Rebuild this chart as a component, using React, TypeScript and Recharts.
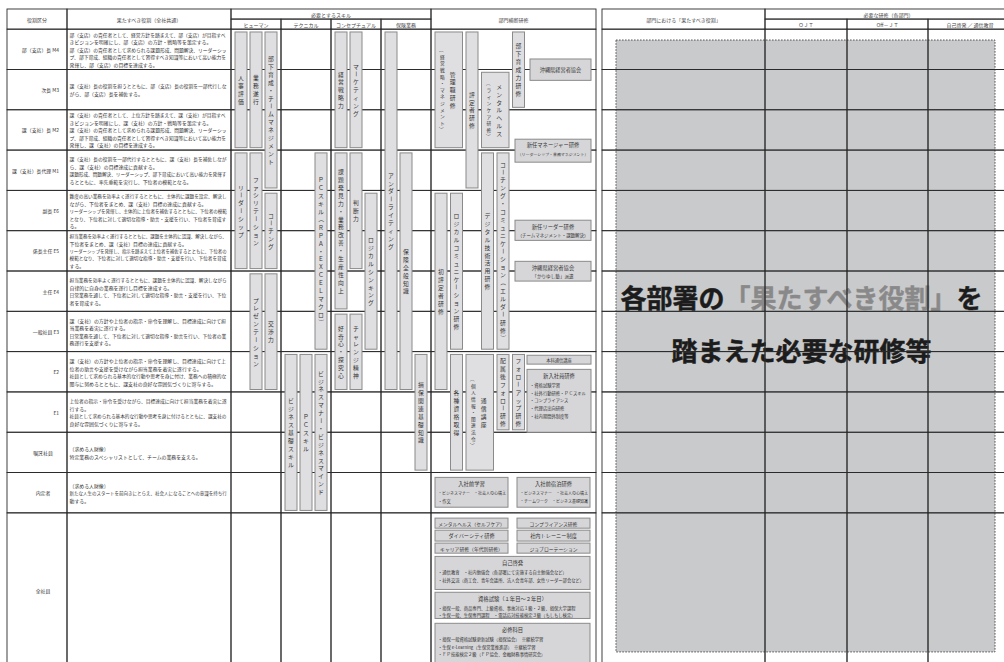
import React from "react";
import { ComposedChart, XAxis, YAxis, ReferenceArea } from "recharts";

const FONT = '"Noto Sans CJK JP", "Noto Sans", sans-serif';

// rows of the table (grades)
const grades = [
  "部（支店）長 M4",
  "次長 M3",
  "課（支社）長 M2",
  "課（支社）長代理 M1",
  "副長 E6",
  "係長主任 E5",
  "主任 E4",
  "一般社員 E3",
  "E2",
  "E1",
  "嘱託社員",
  "内定者",
  "全社員",
];
const centeredGrades = ["嘱託社員", "内定者", "全社員"];

// 果たすべき役割（全社共通）
const roles: string[][] = [
  [
    "部（支店）の責任者として、経営方針を踏まえて、部（支店）が目指すべ",
    "きビジョンを明確にし、部（支店）の方針・戦略等を策定する。",
    "部（支店）の責任者として求められる課題形成、問題解決、リーダーシッ",
    "プ、部下育成、組織の責任者として習得すべき知識等において高い能力を",
    "発揮し、部（支店）の目標を達成する。",
  ],
  [
    "課（支社）長の役割を担うとともに、部（支店）長の役割を一部代行しな",
    "がら、部（支店）長を補佐する。",
  ],
  [
    "課（支社）の責任者として、上位方針を踏まえて、課（支社）が目指すべ",
    "きビジョンを明確にし、課（支社）の方針・戦略等を策定する。",
    "課（支社）の責任者として求められる課題形成、問題解決、リーダーシッ",
    "プ、部下育成、組織の責任者として習得すべき知識等において高い能力を",
    "発揮し、課（支社）の目標を達成する。",
  ],
  [
    "課（支社）長の役割を一部代行するとともに、課（支社）長を補佐しなが",
    "ら、課（支社）の目標達成に貢献する。",
    "課題形成、問題解決、リーダーシップ、部下育成において高い能力を発揮す",
    "るとともに、率先垂範を実行し、下位者の模範となる。",
  ],
  [
    "難度の高い業務を効率よく遂行するとともに、主体的に課題を設定、解決し",
    "ながら、下位者をまとめ、課（支社）目標の達成に貢献する。",
    "リーダーシップを発揮し、主体的に上位者を補佐するとともに、下位者の模範",
    "となり、下位者に対して適切な指導・助言・支援を行い、下位者を育成す",
    "る。",
  ],
  [
    "担当業務を効率よく遂行するとともに、課題を主体的に認識、解決しながら、",
    "下位者をまとめ、課（支社）目標の達成に貢献する。",
    "リーダーシップを発揮し、指示を踏まえて上位者を補佐するとともに、下位者の",
    "模範となり、下位者に対して適切な指導・助言・支援を行い、下位者を育成",
    "する。",
  ],
  [
    "担当業務を効率よく遂行するとともに、課題を主体的に認識、解決しながら",
    "自律的に自身の業務を遂行し目標を達成する。",
    "日常業務を通して、下位者に対して適切な指導・助言・支援を行い、下位",
    "者を育成する。",
  ],
  [
    "課（支社）の方針や上位者の指示・命令を理解し、目標達成に向けて担",
    "当業務を着実に遂行する。",
    "日常業務を通して、下位者に対して適切な指導・助言を行い、下位者の業",
    "務遂行を支援する。",
  ],
  [
    "課（支社）の方針や上位者の指示・命令を理解し、目標達成に向けて上",
    "位者の助言や支援を受けながら担当業務を着実に遂行する。",
    "社員として求められる基本的な行動や思考を身に付け、業務への積極的な",
    "関与に努めるとともに、課支社の良好な雰囲気づくりに寄与する。",
  ],
  [
    "上位者の指示・命令を受けながら、目標達成に向けて担当業務を着実に遂",
    "行する。",
    "社員として求められる基本的な行動や思考を身に付けるとともに、課支社の",
    "良好な雰囲気づくりに寄与する。",
  ],
  ["〔求める人財像〕", "特定業務のスペシャリストとして、チームの業務を支える。"],
  [
    "〔求める人財像〕",
    "新たな人生のスタートを前向きにとらえ、社会人になることへの意識を持ち行",
    "動する。",
  ],
  [],
];

const skillGroups = ["ヒューマン", "テクニカル", "コンセプチュアル", "保険業務"];

// [label, skill group, lane, first grade, last grade]
const skillBars: [string, number, number, number, number][] = [
  ["人事評価", 0, 0, 0, 2],
  ["業務遂行", 0, 1, 0, 2],
  ["部下育成・チームマネジメント", 0, 2, 0, 3],
  ["リーダーシップ", 0, 0, 3, 5],
  ["ファシリテーション", 0, 1, 3, 5],
  ["コーチング", 0, 2, 4, 5],
  ["プレゼンテーション", 0, 1, 6, 8],
  ["交渉力", 0, 2, 6, 8],
  ["ＰＣスキル（ＲＰＡ・ＥＸＣＥＬマクロ）", 1, 2, 3, 7],
  ["ビジネス基礎スキル", 1, 0, 8, 11],
  ["ＰＣスキル", 1, 1, 8, 11],
  ["ビジネスマナー・ビジネスマインド", 1, 2, 8, 11],
  ["経営戦略力", 2, 0, 0, 2],
  ["マーケティング", 2, 1, 0, 2],
  ["課題発見力・業務改善・生産性向上", 2, 0, 3, 6],
  ["判断力", 2, 1, 3, 5],
  ["ロジカルシンキング", 2, 2, 4, 7],
  ["好奇心・探究心", 2, 0, 7, 8],
  ["チャレンジ精神", 2, 1, 7, 8],
  ["アンダーライティング", 3, 0, 0, 8],
  ["保険全般知識", 3, 1, 3, 8],
  ["損保関連基礎知識", 3, 2, 8, 10],
];

// 部門横断研修 bars: [label ("|" = next column), lane, lanes wide, first grade, last grade]
const crossBars: [string, number, number, number, number][] = [
  ["管理職研修|（経営戦略・マネジメント）", 0, 2, 0, 2],
  ["評定者研修", 2, 1, 0, 3],
  ["メンタルヘルス|（ラインケア研修）", 3, 2, 1, 2],
  ["部下育成力研修", 5, 1, 0, 1],
  ["デジタル技術活用研修", 3, 1, 3, 7],
  ["コーチング・コミュニケーション（エルダー研修）", 4, 1, 3, 7],
  ["初評定者研修", 0, 1, 4, 8],
  ["ロジカルコミュニケーション研修", 1, 1, 4, 7],
  ["各種資格取得", 1, 1, 8, 10],
  ["通信講座|（個人情報・関連法令）", 2, 2, 8, 10],
  ["配属後フォロー研修", 4, 1, 8, 9],
  ["フォローアップ研修", 5, 1, 8, 9],
];

// 部門横断研修 boxes: [title, lines, slot, from (grade units), to]
const crossBoxes: [string, string[], string, number, number][] = [
  ["沖縄県経営者協会", [], "side", 0.74, 1.27],
  ["新任マネージャー研修", ["（リーダーシップ・業務マネジメント）"], "wide", 2.73, 3.3],
  ["新任リーダー研修", ["（チームマネジメント・課題解決）"], "wide", 4.74, 5.24],
  ["沖縄県経営者協会", ["「かりゆし塾」派遣"], "wide", 5.76, 6.25],
  ["本科通信講座", [], "narrow", 8.09, 8.31],
  [
    "新入社員研修",
    ["・資格試験学習", "・社外行動研修・ＰＣスキル", "・コンプライアンス", "・代理店出向研修", "・社内期間外制度等"],
    "narrow",
    8.44,
    10.0,
  ],
  ["入社前学習", ["・ビジネスマナー　・社会人の心構え", "・作文"], "left", 11.12, 11.86],
  ["入社前宿泊研修", ["・ビジネスマナー　・社会人の心構え", "・チームワーク　・ビジネス基礎知識"], "right", 11.12, 11.86],
  ["メンタルヘルス（セルフケア）", [], "left", 12.13, 12.38],
  ["コンプライアンス研修", [], "right", 12.13, 12.38],
  ["ダイバーシティ研修", [], "left", 12.43, 12.7],
  ["社内トレーニー制度", [], "right", 12.43, 12.7],
  ["キャリア研修（年代別研修）", [], "left", 12.75, 13.0],
  ["ジョブローテーション", [], "right", 12.75, 13.0],
  [
    "自己啓発",
    ["・通信教育　・社内勉強会（各部署にて実施する自主勉強会など）", "・社外交流（商工会、青年会議所、法人会青年部、女性リーダー部会など）"],
    "full",
    13.08,
    13.9,
  ],
  [
    "資格試験（１年目～２年目）",
    ["・損保一般、商品専門、上級資格、事故対応１級・２級、損保大学課程", "・生保一般、生保専門課程　・電話応対技能検定３級（もしもし検定）"],
    "full",
    13.97,
    14.62,
  ],
  [
    "必修科目",
    [
      "・損保一般資格試験更新試験（損保協会）　※継続学習",
      "・生保 e-Learning（生保営業推進部）　※継続学習",
      "・ＦＰ技能検定２級（ＦＰ協会、金融財務事情研究会）",
    ],
    "full",
    14.74,
    15.9,
  ],
];

const rightCols = ["ＯＪＴ", "Off－ＪＴ", "自己啓発 ／ 通信教育"];

// layout
const W = 1004;
const H = 662;
const TABLE_TOP = 9;
const Y_MIN = -0.5;
const Y_MAX = 15.7;
const LAST_BOTTOM = 16.8;
const LEFT_EDGES = [7, 67, 231, 281, 331, 381, 431, 596];
const RIGHT_EDGES = [602, 765, 847, 928, 1012];
const SKILL_X0 = 231;
const SKILL_W = 50;
const CROSS_X0 = 431;
const BAR_W = 12;
const LANE_STEP = 15;
const CROSS_STEP = 15.5;
const SLOTS: Record<string, [number, number]> = {
  side: [530, 591],
  wide: [515, 591],
  narrow: [527, 591],
  left: [435, 508],
  right: [517, 590],
  full: [435, 590],
};
const LINE = "#2a2a2a";
const BAR_FILL = "#dfdfe1";
const BOX_FILL = "#d6d6d8";
const BAR_STROKE = "#8a8a8a";
const TXT = "#333";
const ROTATE = "ー（）〔〕「」－～〜";

type P = { x: number; y: number; width: number; height: number };

const rowBottom = (i: number) => (i === grades.length - 1 ? LAST_BOTTOM : i + 1);

function area(key: string, x1: number, x2: number, y1: number, y2: number, draw: (p: P) => React.ReactElement) {
  return <ReferenceArea key={key} x1={x1} x2={x2} y1={y1} y2={y2} ifOverflow="visible" shape={(p: any) => draw(p)} />;
}

function estWidth(s: string, size: number) {
  let w = 0;
  for (const ch of Array.from(s)) w += ch.charCodeAt(0) > 0xff ? size : size * 0.55;
  return w;
}

// horizontal text; shrinks the font when the line would not fit
function HText({ x, y, s, size, anchor = "middle", fit, color = TXT }: any) {
  const fs = fit ? Math.min(size, (size * fit) / estWidth(s, size)) : size;
  return (
    <text x={x} y={y} fontSize={fs} fill={color} fontFamily={FONT} textAnchor={anchor} dominantBaseline="central">
      {s}
    </text>
  );
}

function VText({ cx, top, bottom, s, size = 5.8, step = 7.9 }: { cx: number; top: number; bottom: number; s: string; size?: number; step?: number }) {
  const chars = Array.from(s);
  const gap = Math.min(step, (bottom - top - 4) / chars.length);
  const y0 = (top + bottom) / 2 - ((chars.length - 1) * gap) / 2;
  return (
    <g>
      {chars.map((ch, i) => {
        const y = y0 + i * gap;
        return (
          <text
            key={i}
            x={cx}
            y={y}
            fontSize={size}
            fill={TXT}
            fontFamily={FONT}
            textAnchor="middle"
            dominantBaseline="central"
            transform={ROTATE.includes(ch) ? `rotate(90 ${cx} ${y})` : undefined}
          >
            {ch}
          </text>
        );
      })}
    </g>
  );
}

const cellRect = (p: P) => (
  <rect x={p.x} y={p.y} width={p.width} height={p.height} fill="none" stroke={LINE} strokeWidth={0.9} />
);

const headCell = (label: string) => (p: P) => (
  <g>
    {cellRect(p)}
    <HText x={p.x + p.width / 2} y={p.y + p.height / 2} s={label} size={5} color="#444" />
  </g>
);

const barShape = (label: string) => (p: P) => {
  const cols = label.split("|");
  const cx = p.x + p.width / 2;
  return (
    <g>
      <rect x={p.x} y={p.y} width={p.width} height={p.height} fill={BAR_FILL} stroke={BAR_STROKE} strokeWidth={1} />
      {cols.map((c, i) =>
        cols.length === 1 ? (
          <VText key={i} cx={cx} top={p.y} bottom={p.y + p.height} s={c} />
        ) : i === 0 ? (
          <VText key={i} cx={cx + 4} top={p.y} bottom={p.y + p.height} s={c} />
        ) : (
          <VText key={i} cx={cx - 6.5} top={p.y} bottom={p.y + p.height} s={c} size={4.7} step={6.6} />
        )
      )}
    </g>
  );
};

const boxShape = (title: string, lines: string[]) => (p: P) => {
  const cx = p.x + p.width / 2;
  const bullets = lines.length > 0 && lines[0].startsWith("・");
  return (
    <g>
      <rect x={p.x} y={p.y} width={p.width} height={p.height} fill={BOX_FILL} stroke={BAR_STROKE} strokeWidth={1} />
      {lines.length === 0 ? (
        <HText x={cx} y={p.y + p.height / 2} s={title} size={Math.min(5.2, p.height * 0.48)} fit={p.width - 6} />
      ) : (
        <g>
          <HText x={cx} y={p.y + 6.3} s={title} size={5.3} />
          {lines.map((l, i) => (
            <HText
              key={i}
              x={bullets ? p.x + 3 : cx}
              y={p.y + (bullets ? 15.3 : 14.8) + i * 7.9}
              s={l}
              size={bullets ? 4.3 : 4.6}
              anchor={bullets ? "start" : "middle"}
              fit={p.width - 5}
            />
          ))}
        </g>
      )}
    </g>
  );
};

export default function App() {
  const layers: React.ReactElement[] = [];

  // right table: gray placeholder area
  layers.push(
    area("gray", 616, 995, 0.27, 15.45, (p) => (
      <rect x={p.x} y={p.y} width={p.width} height={p.height} fill="#c9cacc" stroke="#555" strokeWidth={1} strokeDasharray="1.6 1.4" />
    ))
  );

  // headline (the grid lines of the right table run over it)
  layers.push(
    area("headline", 616, 995, 0.27, 15.45, (p) => {
      const cx = p.x + p.width / 2 - 4;
      return (
        <g fontFamily={FONT} fontWeight={700} fontSize={26} textAnchor="middle" dominantBaseline="central" strokeWidth={0.45} strokeLinejoin="round">
          <text x={cx} y={p.y + p.height * 0.418}>
            <tspan fill="#1c1c1c" stroke="#1c1c1c">各部署の</tspan>
            <tspan fill="#898989" stroke="#898989">「果たすべき役割」</tspan>
            <tspan fill="#1c1c1c" stroke="#1c1c1c">を</tspan>
          </text>
          <text x={cx} y={p.y + p.height * 0.505} fill="#1c1c1c" stroke="#1c1c1c">
            踏まえた必要な研修等
          </text>
        </g>
      );
    })
  );

  // right table header + grid
  layers.push(area("rh0", RIGHT_EDGES[0], RIGHT_EDGES[1], -0.5, 0, headCell("部門における「果たすべき役割」")));
  layers.push(area("rh1", RIGHT_EDGES[1], RIGHT_EDGES[4], -0.5, -0.25, headCell("必要な研修（各部門）")));
  rightCols.forEach((c, j) => layers.push(area(`rhc${j}`, RIGHT_EDGES[j + 1], RIGHT_EDGES[j + 2], -0.25, 0, headCell(c))));
  grades.forEach((_, i) => {
    for (let j = 0; j < 4; j++) layers.push(area(`r${i}-${j}`, RIGHT_EDGES[j], RIGHT_EDGES[j + 1], i, rowBottom(i), cellRect));
  });

  // left table header
  layers.push(area("lh0", LEFT_EDGES[0], LEFT_EDGES[1], -0.5, 0, headCell("役割区分")));
  layers.push(area("lh1", LEFT_EDGES[1], LEFT_EDGES[2], -0.5, 0, headCell("果たすべき役割（全社共通）")));
  layers.push(area("lh2", LEFT_EDGES[2], LEFT_EDGES[6], -0.5, -0.25, headCell("必要とするスキル")));
  skillGroups.forEach((g, j) => layers.push(area(`lhs${j}`, LEFT_EDGES[j + 2], LEFT_EDGES[j + 3], -0.25, 0, headCell(g))));
  layers.push(area("lh3", LEFT_EDGES[6], LEFT_EDGES[7], -0.5, 0, headCell("部門横断研修")));

  // left table body
  grades.forEach((g, i) => {
    layers.push(
      area(`lg${i}`, LEFT_EDGES[0], LEFT_EDGES[1], i, rowBottom(i), (p) => {
        const centered = centeredGrades.includes(g);
        const cy = i === grades.length - 1 ? p.y + 78 : p.y + p.height / 2;
        return (
          <g>
            {cellRect(p)}
            <HText x={centered ? p.x + p.width / 2 + 6 : p.x + p.width - 8} y={cy} s={g} size={4.9} anchor={centered ? "middle" : "end"} />
          </g>
        );
      })
    );
    layers.push(
      area(`lr${i}`, LEFT_EDGES[1], LEFT_EDGES[2], i, rowBottom(i), (p) => {
        const lines = roles[i];
        const y0 = p.y + p.height / 2 - ((lines.length - 1) * 7.5) / 2;
        return (
          <g>
            {cellRect(p)}
            {lines.map((l, k) => (
              <HText key={k} x={p.x + 2.5} y={y0 + k * 7.5} s={l} size={4.9} anchor="start" fit={158} />
            ))}
          </g>
        );
      })
    );
    for (let c = 2; c < 7; c++) layers.push(area(`lc${i}-${c}`, LEFT_EDGES[c], LEFT_EDGES[c + 1], i, rowBottom(i), cellRect));
  });

  // skill bars
  skillBars.forEach(([label, g, k, from, to], n) => {
    const x1 = SKILL_X0 + g * SKILL_W + 4 + k * LANE_STEP;
    layers.push(area(`sb${n}`, x1, x1 + BAR_W, from + 0.07, to + 1 - 0.06, barShape(label)));
  });

  // cross-department bars
  crossBars.forEach(([label, k, wide, from, to], n) => {
    const x1 = CROSS_X0 + 4 + k * CROSS_STEP;
    layers.push(area(`cb${n}`, x1, x1 + (wide - 1) * CROSS_STEP + BAR_W, from + 0.07, to + 1 - 0.06, barShape(label)));
  });

  // cross-department boxes
  crossBoxes.forEach(([title, lines, slot, from, to], n) => {
    const [x1, x2] = SLOTS[slot];
    layers.push(area(`bx${n}`, x1, x2, from, to, boxShape(title, lines)));
  });

  return (
    <div style={{ position: "fixed", left: 0, top: 0, width: W, height: H, overflow: "hidden", background: "#fff" }}>
      <ComposedChart width={W} height={H} margin={{ top: TABLE_TOP, right: 0, bottom: 0, left: 0 }}>
        <XAxis type="number" dataKey="x" domain={[0, W]} allowDataOverflow hide />
        <YAxis type="number" domain={[Y_MIN, Y_MAX]} allowDataOverflow reversed hide />
        {layers}
      </ComposedChart>
    </div>
  );
}
